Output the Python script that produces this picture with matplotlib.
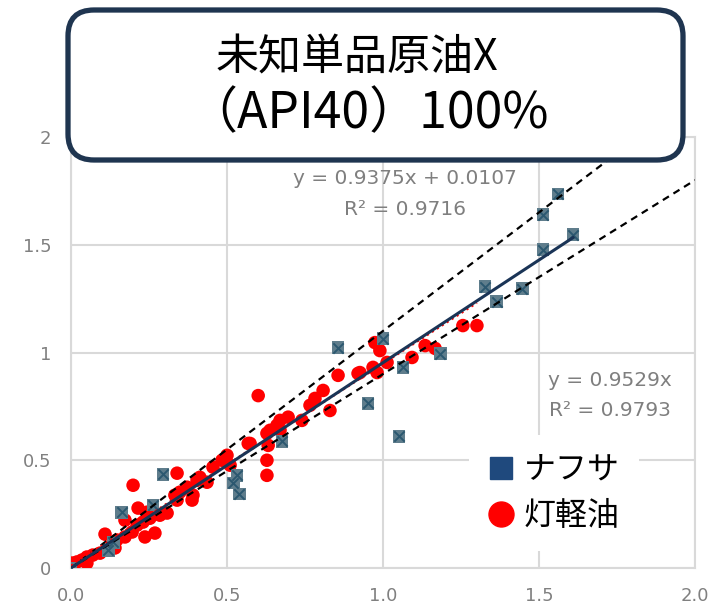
import numpy as np
import matplotlib
matplotlib.use('Agg')
import matplotlib.pyplot as plt
from matplotlib.lines import Line2D
from matplotlib.patches import FancyBboxPatch

plt.rcParams['font.family'] = ['Noto Sans CJK JP', 'DejaVu Sans']

# ナフサ samples (x, y)
naphtha_x = [0.0, 0.119, 0.135, 0.163, 0.263, 0.295, 0.52, 0.532, 0.54, 0.676,
             0.856, 0.952, 1.0, 1.051, 1.064, 1.183, 1.327, 1.365, 1.446,
             1.513, 1.513, 1.561, 1.609]
naphtha_y = [0.0, 0.083, 0.12, 0.259, 0.292, 0.435, 0.394, 0.431, 0.343, 0.588,
             1.023, 0.764, 1.065, 0.611, 0.931, 0.995, 1.306, 1.236, 1.296,
             1.477, 1.639, 1.736, 1.546]

# 灯軽油 samples (x, y)
kerosene_x = [0.0, 0.003, 0.019, 0.035, 0.051, 0.051, 0.07, 0.093, 0.109, 0.141,
              0.147, 0.173, 0.173, 0.196, 0.199, 0.212, 0.215, 0.231, 0.237, 0.244,
              0.253, 0.269, 0.285, 0.308, 0.333, 0.34, 0.34, 0.349, 0.372, 0.388,
              0.391, 0.404, 0.413, 0.436, 0.455, 0.484, 0.5, 0.51, 0.568, 0.574,
              0.6, 0.628, 0.628, 0.628, 0.632, 0.638, 0.66, 0.67, 0.67, 0.696,
              0.74, 0.766, 0.782, 0.808, 0.83, 0.856, 0.92, 0.926, 0.968, 0.974,
              0.981, 0.99, 1.013, 1.093, 1.135, 1.167, 1.256, 1.301]
kerosene_y = [0.005, 0.023, 0.028, 0.037, 0.051, 0.023, 0.06, 0.069, 0.157, 0.093,
              0.13, 0.144, 0.222, 0.167, 0.384, 0.199, 0.278, 0.213, 0.144, 0.259,
              0.231, 0.162, 0.245, 0.255, 0.338, 0.315, 0.44, 0.352, 0.375, 0.315,
              0.338, 0.407, 0.421, 0.398, 0.468, 0.5, 0.523, 0.477, 0.578, 0.578,
              0.8, 0.625, 0.5, 0.43, 0.569, 0.639, 0.662, 0.685, 0.639, 0.70,
              0.685, 0.755, 0.787, 0.824, 0.731, 0.894, 0.903, 0.907, 0.931, 1.046,
              0.907, 1.009, 0.954, 0.977, 1.032, 1.019, 1.125, 1.125]

# trend lines and ±10 % band
naphtha_slope = 0.9529
kerosene_slope, kerosene_icpt = 0.9375, 0.0107
band = [1.1, 0.9]

ticks = [0, 0.5, 1.0, 1.5, 2.0]
x_ticklabels = ['0.0', '0.5', '1.0', '1.5', '2.0']
y_ticklabels = ['0', '0.5', '1', '1.5', '2']

title_lines = ['未知単品原油X', '（API40）100%']
legend_names = ['ナフサ', '灯軽油']

grid_col = '#d9d9d9'
navy = '#1a3456'

fig = plt.figure(figsize=(7.2, 6.12), dpi=100)
ax = fig.add_axes([0.0986, 0.0719, 0.8667, 0.7042])

ax.set_xlim(0, 2.0)
ax.set_ylim(0, 2.0)
ax.set_xticks(ticks)
ax.set_yticks(ticks)
ax.set_xticklabels(x_ticklabels)
ax.set_yticklabels(y_ticklabels)
ax.tick_params(length=0, colors='#808080', labelsize=13, pad=14)
for lab in ax.get_xticklabels() + ax.get_yticklabels():
    lab.set_family('DejaVu Sans')
ax.grid(True, color=grid_col, linewidth=1.5, zorder=0)
ax.set_axisbelow(True)
for sp in ax.spines.values():
    sp.set_color(grid_col)
    sp.set_linewidth(1.5)

ax.scatter(kerosene_x, kerosene_y, s=95, color='#ff0000', edgecolors='none', zorder=3)
ax.scatter(naphtha_x, naphtha_y, s=85, marker='s', color='#5f7d8c',
           edgecolors='none', zorder=4)
ax.scatter(naphtha_x, naphtha_y, s=55, marker='x', color='#2c5870',
           linewidths=1.4, zorder=4)

xx = np.array([0.0, 2.0])
for k in band:
    ax.plot(xx, k * xx, color='black', linewidth=1.6, dashes=(3.2, 2.4), zorder=5)

xk = np.array([0.0, max(kerosene_x)])
ax.plot(xk, kerosene_slope * xk + kerosene_icpt, color='#ff0000', linewidth=1.6,
        linestyle=':', zorder=5)
xn = np.array([0.0, max(naphtha_x)])
ax.plot(xn, naphtha_slope * xn, color=navy, linewidth=2.2, zorder=6)

eq_style = dict(color='#7f7f7f', fontsize=14.5, ha='center', va='center',
                family='DejaVu Sans', zorder=7)
ax.text(1.07, 1.806, f'y = {kerosene_slope}x + {kerosene_icpt}', **eq_style)
ax.text(1.07, 1.662, 'R² = 0.9716', **eq_style)
ax.text(1.728, 0.870, f'y = {naphtha_slope}x', **eq_style)
ax.text(1.728, 0.731, 'R² = 0.9793', **eq_style)

handles = [Line2D([], [], marker='s', linestyle='none', markersize=16,
                  markerfacecolor='#1f497d', markeredgecolor='#1f497d'),
           Line2D([], [], marker='o', linestyle='none', markersize=18,
                  markerfacecolor='#ff0000', markeredgecolor='#ff0000')]
leg = ax.legend(handles, legend_names, loc='center',
                bbox_to_anchor=(554 / 720, 1 - 493 / 612),
                bbox_transform=fig.transFigure, fontsize=23, frameon=True,
                facecolor='white', edgecolor='none', framealpha=1,
                handlelength=0.8, handletextpad=0.3, labelspacing=0.45,
                borderpad=0.6, fancybox=False)
leg.set_zorder(8)

# title box on a pixel-space overlay
over = fig.add_axes([0, 0, 1, 1], zorder=10)
over.set_xlim(0, 720)
over.set_ylim(612, 0)
over.axis('off')
over.patch.set_alpha(0)
box = FancyBboxPatch((92, 34), 567, 102, boxstyle='round,pad=24,rounding_size=26',
                     facecolor='white', edgecolor='#1f3550', linewidth=3.8)
over.add_patch(box)
over.text(357, 58, title_lines[0], fontsize=31, ha='center', va='center', color='black')
over.text(368, 114, title_lines[1], fontsize=36, ha='center', va='center', color='black')

fig.savefig('out.png', dpi=100)
